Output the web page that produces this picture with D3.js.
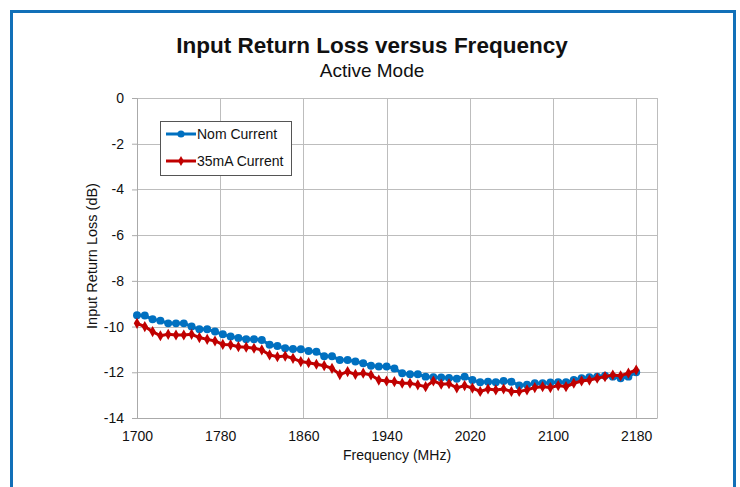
<!DOCTYPE html>
<html>
<head>
<meta charset="utf-8">
<script src="https://cdn.jsdelivr.net/npm/d3@7"></script>
<style>
  body { margin: 0; background: #fff; }
  text { font-family: "Liberation Sans", Arial, sans-serif; fill: #111; }
</style>
</head>
<body>
<div class="chart"></div>
<script>
//Chart values.
var startFreq = 1700;
var stepFreq = 7.5;
var nomCurrent = [-9.5, -9.52, -9.68, -9.74, -9.86, -9.86, -9.86, -10.0, -10.12, -10.12,
  -10.22, -10.34, -10.43, -10.5, -10.55, -10.55, -10.59, -10.8, -10.85, -10.95,
  -10.98, -10.99, -11.07, -11.1, -11.3, -11.3, -11.46, -11.46, -11.53, -11.6,
  -11.71, -11.75, -11.75, -11.83, -12.04, -12.09, -12.09, -12.19, -12.22, -12.23,
  -12.25, -12.28, -12.19, -12.34, -12.44, -12.41, -12.44, -12.38, -12.41, -12.58,
  -12.55, -12.48, -12.48, -12.45, -12.44, -12.44, -12.34, -12.26, -12.22, -12.19,
  -12.15, -12.19, -12.26, -12.19, -12.0];
var ma35Current = [-9.86, -10.0, -10.22, -10.4, -10.34, -10.37, -10.37, -10.34, -10.48, -10.56,
  -10.63, -10.78, -10.8, -10.88, -10.9, -10.95, -11.02, -11.24, -11.32, -11.29,
  -11.39, -11.53, -11.58, -11.65, -11.71, -11.83, -12.1, -11.97, -12.09, -12.04,
  -12.12, -12.34, -12.38, -12.41, -12.48, -12.48, -12.55, -12.63, -12.38, -12.52,
  -12.5, -12.68, -12.58, -12.69, -12.84, -12.73, -12.77, -12.73, -12.84, -12.84,
  -12.77, -12.67, -12.63, -12.67, -12.58, -12.63, -12.48, -12.38, -12.34, -12.26,
  -12.19, -12.12, -12.15, -12.04, -11.9];
var xTicks = [1700, 1780, 1860, 1940, 2020, 2100, 2180];
var yTicks = [0, -2, -4, -6, -8, -10, -12, -14];
var seriesNames = ["Nom Current", "35mA Current"];
var seriesColors = ["#0070c0", "#c00000"];

//Define the SVG area dimensions.
var svgWidth = 740;
var svgHeight = 487;

//Plot area inside the svg.
var margin = { top: 98, right: 83, bottom: 69, left: 137 };
var chartWidth = svgWidth - margin.left - margin.right;
var chartHeight = svgHeight - margin.top - margin.bottom;

var svg = d3.select(".chart")
  .append("svg")
  .attr("width", svgWidth)
  .attr("height", svgHeight);

//Blue frame round the whole picture.
svg.append("rect")
  .attr("x", 11.5)
  .attr("y", 11.5)
  .attr("width", 723)
  .attr("height", 490)
  .attr("fill", "#fff")
  .attr("stroke", "#1170b8")
  .attr("stroke-width", 3);

//Titles.
svg.append("text")
  .attr("x", 372)
  .attr("y", 53)
  .attr("text-anchor", "middle")
  .style("font-size", "22.5px")
  .style("font-weight", "bold")
  .text("Input Return Loss versus Frequency");

svg.append("text")
  .attr("x", 372)
  .attr("y", 77)
  .attr("text-anchor", "middle")
  .style("font-size", "19px")
  .text("Active Mode");

var chart = svg.append("g")
  .attr("transform", "translate(" + margin.left + "," + margin.top + ")");

//Scales.
var xScale = d3.scaleLinear()
  .domain([1700, 2200])
  .range([0, chartWidth]);

var yScale = d3.scaleLinear()
  .domain([-14, 0])
  .range([chartHeight, 0]);

//Grid lines.
chart.append("g")
  .selectAll("line")
  .data(xTicks.concat([2200]))
  .enter()
  .append("line")
  .attr("x1", function(d) { return Math.round(xScale(d)) + 0.5; })
  .attr("x2", function(d) { return Math.round(xScale(d)) + 0.5; })
  .attr("y1", 0)
  .attr("y2", chartHeight)
  .attr("stroke", "#bdbdbd");

chart.append("g")
  .selectAll("line")
  .data(yTicks)
  .enter()
  .append("line")
  .attr("x1", 0)
  .attr("x2", chartWidth)
  .attr("y1", function(d) { return Math.round(yScale(d)) + 0.5; })
  .attr("y2", function(d) { return Math.round(yScale(d)) + 0.5; })
  .attr("stroke", "#bdbdbd");

//Axes, plain labels (no thousands comma, ascii minus).
var plain = function(d) { return String(d); };
var bottomAxis = d3.axisBottom(xScale).tickValues(xTicks).tickFormat(plain).tickSize(0).tickPadding(13);
var leftAxis = d3.axisLeft(yScale).tickValues(yTicks).tickFormat(plain).tickSize(5).tickPadding(8);

var xAxis = chart.append("g")
  .attr("transform", "translate(0," + chartHeight + ")")
  .call(bottomAxis);
xAxis.select(".domain").attr("stroke", "#aaa");
xAxis.selectAll("text").style("font-size", "14px").attr("fill", "#111");

var yAxis = chart.append("g")
  .call(leftAxis);
yAxis.select(".domain").attr("stroke", "#aaa");
yAxis.selectAll("line").attr("stroke", "#aaa");
yAxis.selectAll("text").style("font-size", "14px").attr("fill", "#111");

//Axis titles.
svg.append("text")
  .attr("x", margin.left + chartWidth / 2)
  .attr("y", 460)
  .attr("text-anchor", "middle")
  .style("font-size", "14px")
  .text("Frequency (MHz)");

svg.append("text")
  .attr("transform", "translate(97," + (margin.top + chartHeight / 2 - 2) + ") rotate(-90)")
  .attr("text-anchor", "middle")
  .style("font-size", "14.5px")
  .text("Input Return Loss (dB)");

//Series.
var allSeries = [nomCurrent, ma35Current];
var line = d3.line()
  .x(function(d, i) { return xScale(startFreq + i * stepFreq); })
  .y(function(d) { return yScale(d); });

allSeries.forEach(function(values, s) {
  chart.append("path")
    .datum(values)
    .attr("fill", "none")
    .attr("stroke", seriesColors[s])
    .attr("stroke-width", 3)
    .attr("d", line);

  var sym = s === 0 ? d3.symbolCircle : d3.symbolDiamond;
  var size = s === 0 ? 50 : 36;
  chart.append("g")
    .selectAll("path")
    .data(values)
    .enter()
    .append("path")
    .attr("transform", function(d, i) {
      return "translate(" + xScale(startFreq + i * stepFreq) + "," + yScale(d) + ")";
    })
    .attr("d", d3.symbol().type(sym).size(size))
    .attr("fill", seriesColors[s]);
});

//Legend.
var legend = svg.append("g");
legend.append("rect")
  .attr("x", 160.5)
  .attr("y", 121.5)
  .attr("width", 131)
  .attr("height", 54)
  .attr("fill", "#fff")
  .attr("stroke", "#555");

seriesNames.forEach(function(name, s) {
  var ly = 134 + s * 27;
  legend.append("line")
    .attr("x1", 166)
    .attr("x2", 196)
    .attr("y1", ly)
    .attr("y2", ly)
    .attr("stroke", seriesColors[s])
    .attr("stroke-width", 3);
  legend.append("path")
    .attr("transform", "translate(181," + ly + ")")
    .attr("d", d3.symbol().type(s === 0 ? d3.symbolCircle : d3.symbolDiamond).size(s === 0 ? 40 : 30))
    .attr("fill", seriesColors[s]);
  legend.append("text")
    .attr("x", 197)
    .attr("y", ly + 5)
    .style("font-size", "14px")
    .text(name);
});
</script>
</body>
</html>
